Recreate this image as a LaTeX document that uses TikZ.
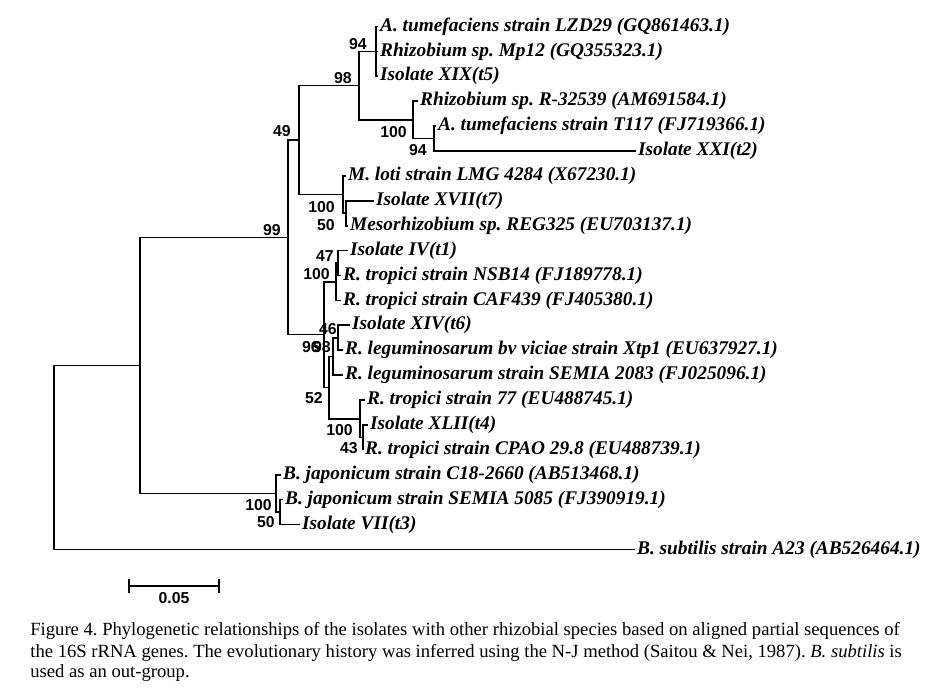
\documentclass[tikz,border=0pt]{standalone}
\usepackage{fontspec}
\setmainfont{Liberation Serif}
\newfontfamily\bootfont{Liberation Sans}
\frenchspacing
\begin{document}
\begin{tikzpicture}[
            x=0.02cm, y=-0.02cm,
            branch/.style={draw, line width=1pt},
            leaf/.style={anchor=west, inner sep=1pt, font=\fontsize{11}{12}\selectfont\bfseries\itshape},
            boot/.style={anchor=east, inner sep=0pt, font=\fontsize{9}{10}\selectfont\bootfont\bfseries},
            capline/.style={anchor=base west, inner sep=0pt, font=\fontsize{10.6}{12}\selectfont}
            ]
            \useasboundingbox (0,0) rectangle (926,688);
            % leaves
            \foreach \n/\i/\x/\t in {
              lzd/1/378/{A. tumefaciens strain LZD29 (GQ861463.1)},
              mp/2/378/{Rhizobium sp. Mp12 (GQ355323.1)},
              xix/3/378/{Isolate XIX(t5)},
              rsp/4/418/{Rhizobium sp. R-32539 (AM691584.1)},
              tsf/5/436/{A. tumefaciens strain T117 (FJ719366.1)},
              xxi/6/636/{Isolate XXI(t2)},
              loti/7/346/{M. loti strain LMG 4284 (X67230.1)},
              xvii/8/374/{Isolate XVII(t7)},
              meso/9/348/{Mesorhizobium sp. REG325 (EU703137.1)},
              iv/10/348/{Isolate IV(t1)},
              nsb/11/341/{R. tropici strain NSB14 (FJ189778.1)},
              caf/12/341/{R. tropici strain CAF439 (FJ405380.1)},
              xiv/13/350/{Isolate XIV(t6)},
              bvv/14/343/{R. leguminosarum bv viciae strain Xtp1 (EU637927.1)},
              semia/15/343/{R. leguminosarum strain SEMIA 2083 (FJ025096.1)},
              trop/16/365/{R. tropici strain 77 (EU488745.1)},
              xlii/17/368/{Isolate XLII(t4)},
              cpao/18/363/{R. tropici strain CPAO 29.8 (EU488739.1)},
              cbj/19/281/{B. japonicum strain C18-2660 (AB513468.1)},
              sbj/20/283/{B. japonicum strain SEMIA 5085 (FJ390919.1)},
              vii/21/300/{Isolate VII(t3)},
              subt/22/635/{B. subtilis strain A23 (AB526464.1)}}
              \node[leaf] (\n) at (\x, {26.5+(\i-1)*24.9}) {\t};
            % inner nodes
            \coordinate (n94a) at (376, 51.4);
            \coordinate (n94b) at (434, 138.6);
            \coordinate (n100R) at (413, 119.9);
            \coordinate (n98a) at (359, 85.6);
            \coordinate (n50M) at (346, 213.3);
            \coordinate (n100M) at (343, 194.6);
            \coordinate (n49) at (299, 140.1);
            \coordinate (n47) at (338, 263.1);
            \coordinate (n100T) at (336, 281.7);
            \coordinate (n46) at (338, 337.8);
            \coordinate (n98L) at (333, 356.4);
            \coordinate (n43) at (363, 437.4);
            \coordinate (n100X) at (360, 418.7);
            \coordinate (n52) at (329, 387.6);
            \coordinate (n96) at (324, 334.6);
            \coordinate (n99) at (288, 237.4);
            \coordinate (n50B) at (280, 512.1);
            \coordinate (n100B) at (276, 493.4);
            \coordinate (nA) at (140, 365.4);
            \coordinate (root) at (54, 457.4);
            % branches
            \foreach \p/\c in {root/nA, nA/n99, nA/n100B, n99/n49, n99/n96,
                n49/n98a, n49/n100M, n98a/n94a, n98a/n100R, n100R/n94b,
                n100M/n50M, n96/n100T, n96/n52, n100T/n47, n52/n98L,
                n52/n100X, n98L/n46, n100X/n43, n100B/n50B}
              \draw[branch] (\p) |- (\c);
            \foreach \p/\c in {n94a/lzd, n94a/mp, n94a/xix, n100R/rsp, n94b/tsf,
                n94b/xxi, n100M/loti, n50M/xvii, n50M/meso, n47/iv, n47/nsb,
                n100T/caf, n46/xiv, n46/bvv, n98L/semia, n100X/trop, n43/xlii,
                n43/cpao, n100B/cbj, n50B/sbj, n50B/vii, root/subt}
              \draw[branch] (\p) |- (\c.west);
            % bootstrap values
            \foreach \x/\y/\b [count=\k] in {367/44/94, 352/78/98, 407/132/100,
                427/150/94, 291/131/49, 335/207/100, 335/225/50, 281/230/99,
                334/256/47, 330/274/100, 337/329/46, 320/347/96, 331/347/98,
                323/398/52, 353/430/100, 358/448/43, 272/505/100, 275/522/50}
              \node[boot] (bs\k) at (\x,\y) {\b};
            % scale bar
            \coordinate (sbl) at (128,586);
            \coordinate (sbr) at (220,586);
            \draw[branch, |-|] (sbl) -- (sbr);
            \node[boot, anchor=center] (sbtext) at (174,598) {0.05};
            % caption
            \node[capline] (cap1) at (30,636) {Figure 4. Phylogenetic relationships of the isolates with other rhizobial species based on aligned partial sequences of};
            \node[capline] (cap2) at (30,657) {the 16S rRNA genes. The evolutionary history was inferred using the N-J method (Saitou \& Nei, 1987). \textit{B. subtilis} is};
            \node[capline] (cap3) at (30,677) {used as an out-group.};
        \end{tikzpicture}
\end{document}
